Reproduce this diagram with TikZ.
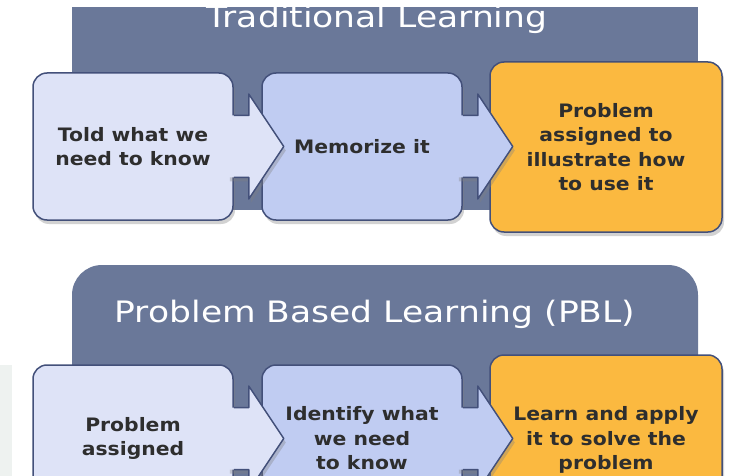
\documentclass[tikz,border=0pt]{standalone}
\usepackage{fontspec}
\setmainfont{DejaVu Sans}
\newfontfamily\titlefont[FakeStretch=1.17]{DejaVu Sans}
\newfontfamily\boxfont[FakeStretch=1.1]{DejaVu Sans Bold}
\usetikzlibrary{shadows,calc}
\definecolor{panelslate}{HTML}{6A7899}
\definecolor{lightlav}{HTML}{DEE3F7}
\definecolor{midlav}{HTML}{C0CCF2}
\definecolor{stepgold}{HTML}{FBB940}
\definecolor{edgeblue}{HTML}{43507A}
\definecolor{sidegray}{HTML}{EEF2F0}

% arrow from a box to the next one
\newcommand{\boxarrow}[2]{%
  \fill[#2, drop shadow={shadow xshift=2pt, shadow yshift=-4pt, opacity=0.35}]
    ($(#1.east)+(-6,-31)$) -- ++(21,0) -- ++(0,-21.5) -- ++(35,52.5)
    -- ++(-35,52.5) -- ++(0,-21.5) -- ++(-21,0) -- cycle;
  \draw[edge]
    ($(#1.east)+(0,-31)$) -- ++(15,0) -- ++(0,-21.5) -- ++(35,52.5)
    -- ++(-35,52.5) -- ++(0,-21.5) -- ++(-15,0);
}

\begin{document}
\begin{tikzpicture}[
    x=1pt, y=-1pt,
    edge/.style={draw=edgeblue, line width=1.5pt, line join=round},
    box/.style={rectangle, edge, rounded corners=14pt, align=center,
      inner sep=0pt, text=black!82, font=\boxfont\fontsize{18.5}{24.5}\selectfont,
      minimum width=200pt, minimum height=147pt,
      drop shadow={shadow xshift=2pt, shadow yshift=-4pt, opacity=0.35}},
    firstbox/.style={box, fill=lightlav},
    secondbox/.style={box, fill=midlav},
    lastbox/.style={box, fill=stepgold, minimum width=232pt, minimum height=170pt},
    paneltitle/.style={text=white, anchor=base, font=\titlefont\fontsize{29.5}{34}\selectfont}
  ]
  \clip (0,0) rectangle (734,476);
  \fill[white] (0,0) rectangle (734,476);
  \fill[sidegray] (0,365) rectangle (12,476);

  % Traditional Learning
  \fill[panelslate] (72,7) rectangle (698,210);
  \node[paneltitle] (tradtitle) at (377,28) {Traditional Learning};

  \node[lastbox] (trad3) at (606,147) {Problem\\assigned to\\illustrate how\\to use it};
  \node[secondbox] (trad2) at (362,146.5) {Memorize it};
  \boxarrow{trad2}{midlav}
  \node[firstbox] (trad1) at (133,146.5) {Told what we\\need to know};
  \boxarrow{trad1}{lightlav}

  % Problem Based Learning
  \fill[panelslate, rounded corners=30pt] (72,265) rectangle (698,520);
  \node[paneltitle] (pbltitle) at (375,322) {Problem Based Learning (PBL)};

  \node[lastbox] (pbl3) at (606,440) {Learn and apply\\it to solve the\\problem};
  \node[secondbox] (pbl2) at (362,438.5) {Identify what\\we need\\to know};
  \boxarrow{pbl2}{midlav}
  \node[firstbox] (pbl1) at (133,438.5) {Problem\\assigned};
  \boxarrow{pbl1}{lightlav}
\end{tikzpicture}
\end{document}
